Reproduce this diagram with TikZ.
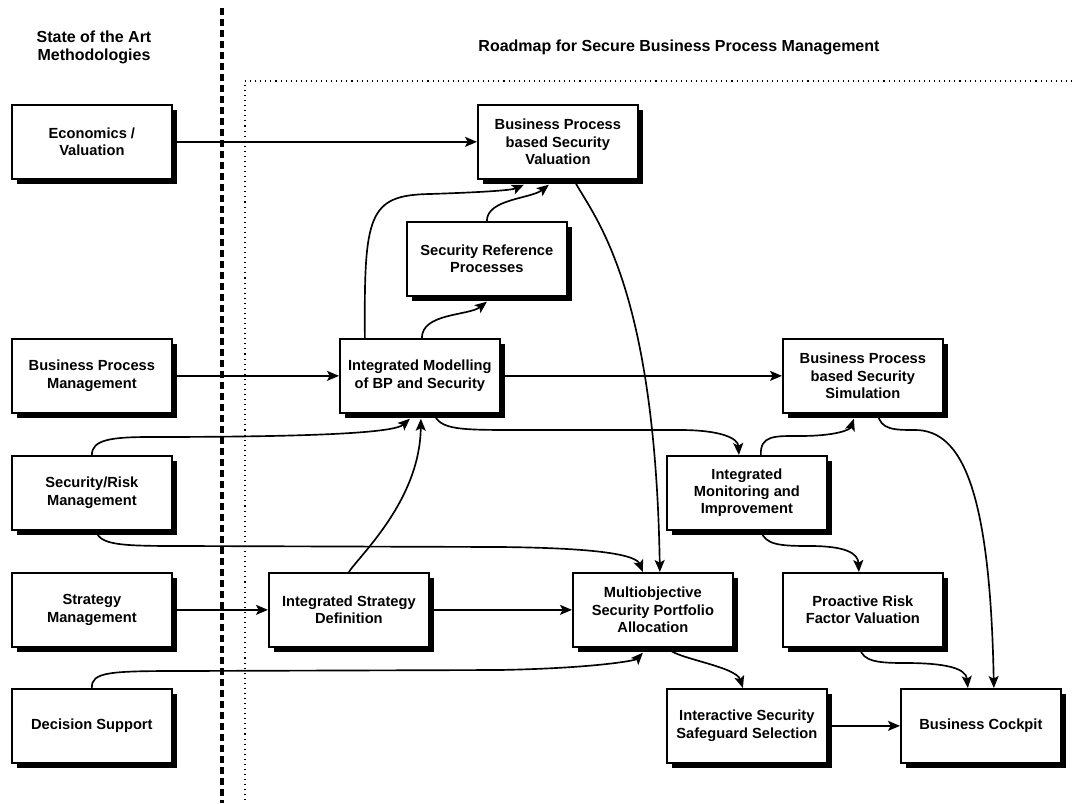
\documentclass[tikz,border=0pt]{standalone}
\usepackage{fontspec}
\setmainfont{Liberation Sans}
\usetikzlibrary{arrows.meta,shadows,calc}
\begin{document}
\begin{tikzpicture}[x=0.75pt,y=-0.75pt,
  box/.style={draw,line width=1.3pt,fill=white,minimum width=120pt,minimum height=55.5pt,
    align=center,font=\bfseries\fontsize{11}{13}\selectfont,anchor=north west,inner sep=2pt,
    drop shadow={shadow xshift=3.75pt,shadow yshift=-3.75pt,fill=black,opacity=1}},
  title/.style={align=center,font=\bfseries\fontsize{12}{13.5}\selectfont},
  conn/.style={line width=1.25pt,-{Stealth[length=9pt,width=7.5pt,inset=2pt]}},
]
\useasboundingbox (0,0) rectangle (1074,803);
% separators
\draw[line width=3pt,dash pattern=on 5.25pt off 3pt] (222,8) -- (222,803);
\draw[line width=0.8pt,dash pattern=on 0.8pt off 3pt] (1072,81) -- (245,81) -- (245,803);
% titles
\node[title] (t1) at (94,47) {State of the Art\\Methodologies};
\node[title] (t2) at (679,47) {Roadmap for Secure Business Process Management};
% boxes
\node[box] (econ)  at (11,104)  {Economics /\\Valuation};
\node[box] (bpsv)  at (477,104) {Business Process\\based Security\\Valuation};
\node[box] (srp)   at (406,221) {Security Reference\\Processes};
\node[box] (bpm)   at (11,338)  {Business Process\\Management};
\node[box] (imod)  at (339,338) {Integrated Modelling\\of BP and Security};
\node[box] (bpsim) at (782,338) {Business Process\\based Security\\Simulation};
\node[box] (srm)   at (11,455)  {Security/Risk\\Management};
\node[box] (imon)  at (666,455) {Integrated\\Monitoring and\\Improvement};
\node[box] (sm)    at (11,572)  {Strategy\\Management};
\node[box] (isd)   at (268,572) {Integrated Strategy\\Definition};
\node[box] (moa)   at (572,572) {Multiobjective\\Security Portfolio\\Allocation};
\node[box] (prfv)  at (782,572) {Proactive Risk\\Factor Valuation};
\node[box] (ds)    at (11,688)  {Decision Support};
\node[box] (issd)  at (666,688) {Interactive Security\\Safeguard Selection};
\node[box] (bc)    at (900,688) {Business Cockpit};
% straight connectors
\draw[conn] (econ.east) -- (bpsv.west);
\draw[conn] (bpm.east) -- (imod.west);
\draw[conn] (imod.east) -- (bpsim.west);
\draw[conn] (sm.east) -- (isd.west);
\draw[conn] (isd.east) -- (moa.west);
\draw[conn] (issd.east) -- (bc.west);
% curved connectors
\draw[conn] ($(imod.north)+(-55,0)$) .. controls (364,215) and (368,195) .. (430,194)
   .. controls (490,192) and (512,190) .. ($(bpsv.south)+(-34,5)$);
\draw[conn] ($(imod.north)+(2,0)$) .. controls +(0,-25) and +(-18,14) .. ($(srp.south)+(0,5)$);
\draw[conn] ($(srp.north)$) .. controls +(0,-22) and +(-18,14) .. ($(bpsv.south)+(-9,5)$);
\draw[conn] ($(bpsv.south)+(16,0)$) .. controls (592,215) and (655,280) .. ($(moa.north)+(7,0)$);
\draw[conn] ($(srm.north)$) .. controls +(0,-15) and (110,437) .. (150,437)
   .. controls (330,437) and (395,432) .. ($(imod.south)+(-10,5)$);
\draw[conn] ($(isd.north)$) .. controls (360,555) and (420,500) .. ($(imod.south)+(1,5)$);
\draw[conn] ($(imod.south)+(14,0)$) .. controls (440,430) and (460,430) .. (520,430)
   -- (680,430) .. controls (720,430) and (738,438) .. ($(imon.north)+(-8,0)$);
\draw[conn] ($(imon.north)+(14,0)$) .. controls (760,435) and (775,436) .. (800,436)
   .. controls (835,436) and (850,430) .. ($(bpsim.south)+(-9,5)$);
\draw[conn] ($(bpsim.south)+(15,0)$) .. controls (880,430) and (895,430) .. (915,430)
   .. controls (962,430) and (990,490) .. ($(bc.north)+(13,0)$);
\draw[conn] ($(srm.south)+(4,0)$) .. controls (100,545) and (120,546) .. (180,546)
   -- (500,547) .. controls (600,548) and (636,555) .. ($(moa.north)+(-10,0)$);
\draw[conn] ($(imon.south)+(14,0)$) .. controls (765,545) and (780,546) .. (810,546)
   .. controls (845,546) and (858,553) .. ($(prfv.north)+(-4,0)$);
\draw[conn] ($(ds.north)$) .. controls (91,672) and (110,671) .. (180,671)
   -- (500,670) .. controls (600,668) and (636,660) .. ($(moa.south)+(-10,5)$);
\draw[conn] ($(moa.south)+(15,0)$) .. controls (672,658) and (736,666) .. ($(issd.north)+(-4,0)$);
\draw[conn] ($(prfv.south)+(-3,0)$) .. controls (862,662) and (880,663) .. (905,663)
   .. controls (945,663) and (966,668) .. ($(bc.north)+(-13,0)$);
\end{tikzpicture}
\end{document}
